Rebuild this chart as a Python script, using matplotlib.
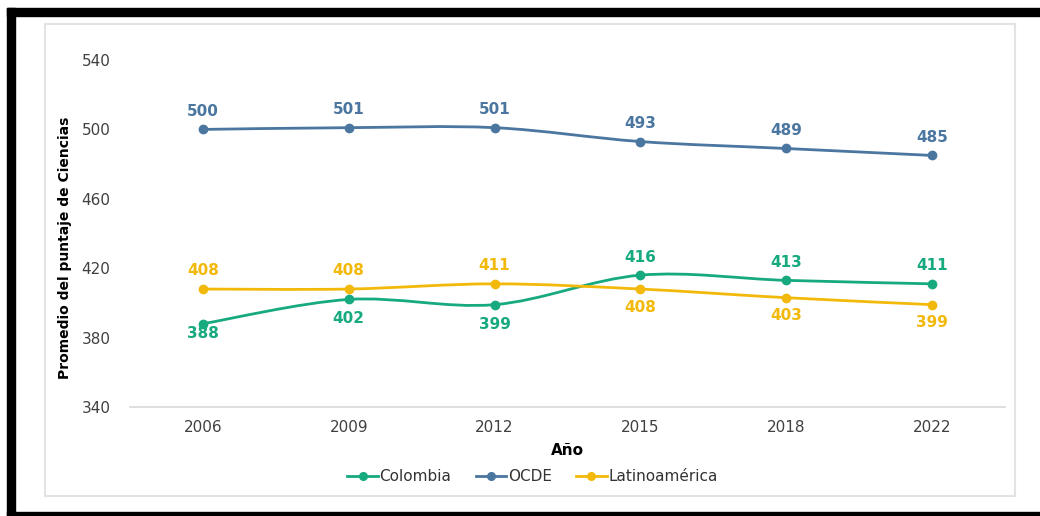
import matplotlib
matplotlib.use('Agg')
import matplotlib.pyplot as plt
import numpy as np
from matplotlib.path import Path
from matplotlib.patches import PathPatch, Rectangle

years = ['2006', '2009', '2012', '2015', '2018', '2022']
colombia = [388, 402, 399, 416, 413, 411]
ocde = [500, 501, 501, 493, 489, 485]
latam = [408, 408, 411, 408, 403, 399]

# label offsets in points (+ above, - below)
off_col = [-7, -14, -14, 13, 13, 13]
off_ocde = [13, 13, 13, 13, 13, 13]
off_lat = [13, 13, 13, -13, -13, -13]

c_col = '#17a97f'
c_ocde = '#4a76a0'
c_lat = '#f3b90a'

plt.rcParams['font.family'] = ['DejaVu Sans']


def smooth_path(xs, ys):
    # catmull-rom style bezier through the points
    pts = np.column_stack([xs, ys]).astype(float)
    verts = [pts[0]]
    codes = [Path.MOVETO]
    n = len(pts)
    for i in range(n - 1):
        p0 = pts[i - 1] if i > 0 else pts[i]
        p1 = pts[i]
        p2 = pts[i + 1]
        p3 = pts[i + 2] if i + 2 < n else pts[i + 1]
        c1 = p1 + (p2 - p0) / 6.0
        c2 = p2 - (p3 - p1) / 6.0
        verts += [c1, c2, p2]
        codes += [Path.CURVE4] * 3
    return Path(verts, codes)


fig = plt.figure(figsize=(10.4, 5.16), dpi=100)
ax = fig.add_axes([0.125, 0.2112, 0.8413, 0.6725])

x = np.arange(len(years))
for vals, col, offs, name in [(colombia, c_col, off_col, 'Colombia'),
                              (ocde, c_ocde, off_ocde, 'OCDE'),
                              (latam, c_lat, off_lat, 'Latinoamérica')]:
    ax.add_patch(PathPatch(smooth_path(x, vals), facecolor='none',
                           edgecolor=col, lw=2, zorder=2))
    ax.plot(x, vals, color=col, lw=2, marker='o', ms=6, ls='none', zorder=3)
    ax.plot([], [], color=col, lw=2, marker='o', ms=5.5, label=name)
    for xi, v, o in zip(x, vals, offs):
        ax.annotate(str(v), (xi, v), xytext=(0, o), textcoords='offset points',
                    ha='center', va='center', color=col, fontsize=11,
                    fontweight='bold')

ax.set_xlim(-0.5, 5.5)
ax.set_ylim(340, 540)
ax.set_yticks([340, 380, 420, 460, 500, 540])
ax.set_xticks(x)
ax.set_xticklabels(years)
ax.tick_params(length=0, labelsize=11, labelcolor='#404040')
ax.tick_params(axis='y', pad=14)
ax.tick_params(axis='x', pad=9)
for s in ['top', 'right', 'left']:
    ax.spines[s].set_visible(False)
ax.spines['bottom'].set_color('#d9d9d9')
ax.spines['bottom'].set_linewidth(1.2)

ax.set_xlabel('Año', fontsize=11, fontweight='bold', labelpad=6)
ax.set_ylabel('Promedio del puntaje de Ciencias', fontsize=10,
              fontweight='bold')
ax.yaxis.set_label_coords(-0.066, 0.46)

ax.legend(loc='upper center', bbox_to_anchor=(0.46, -0.139), ncol=3,
          frameon=False, fontsize=11, handlelength=2.0, handletextpad=0.1,
          columnspacing=1.6, labelcolor='#333333')

# gray frame and black border
W, H = 1040, 516
fig.patches.append(Rectangle((45 / W, 1 - 496 / H), 970 / W, 472 / H,
                             transform=fig.transFigure, fill=False,
                             edgecolor='#e3e3e3', lw=1.5, zorder=0))
fig.patches.append(Rectangle((7 / W, 1 - 16 / H), 1033 / W, 8 / H,
                             transform=fig.transFigure, color='black'))
fig.patches.append(Rectangle((7 / W, 0), 8 / W, 1 - 8 / H,
                             transform=fig.transFigure, color='black'))
fig.patches.append(Rectangle((7 / W, 0), 1033 / W, 4 / H,
                             transform=fig.transFigure, color='black'))

fig.savefig('out.png', dpi=100)
